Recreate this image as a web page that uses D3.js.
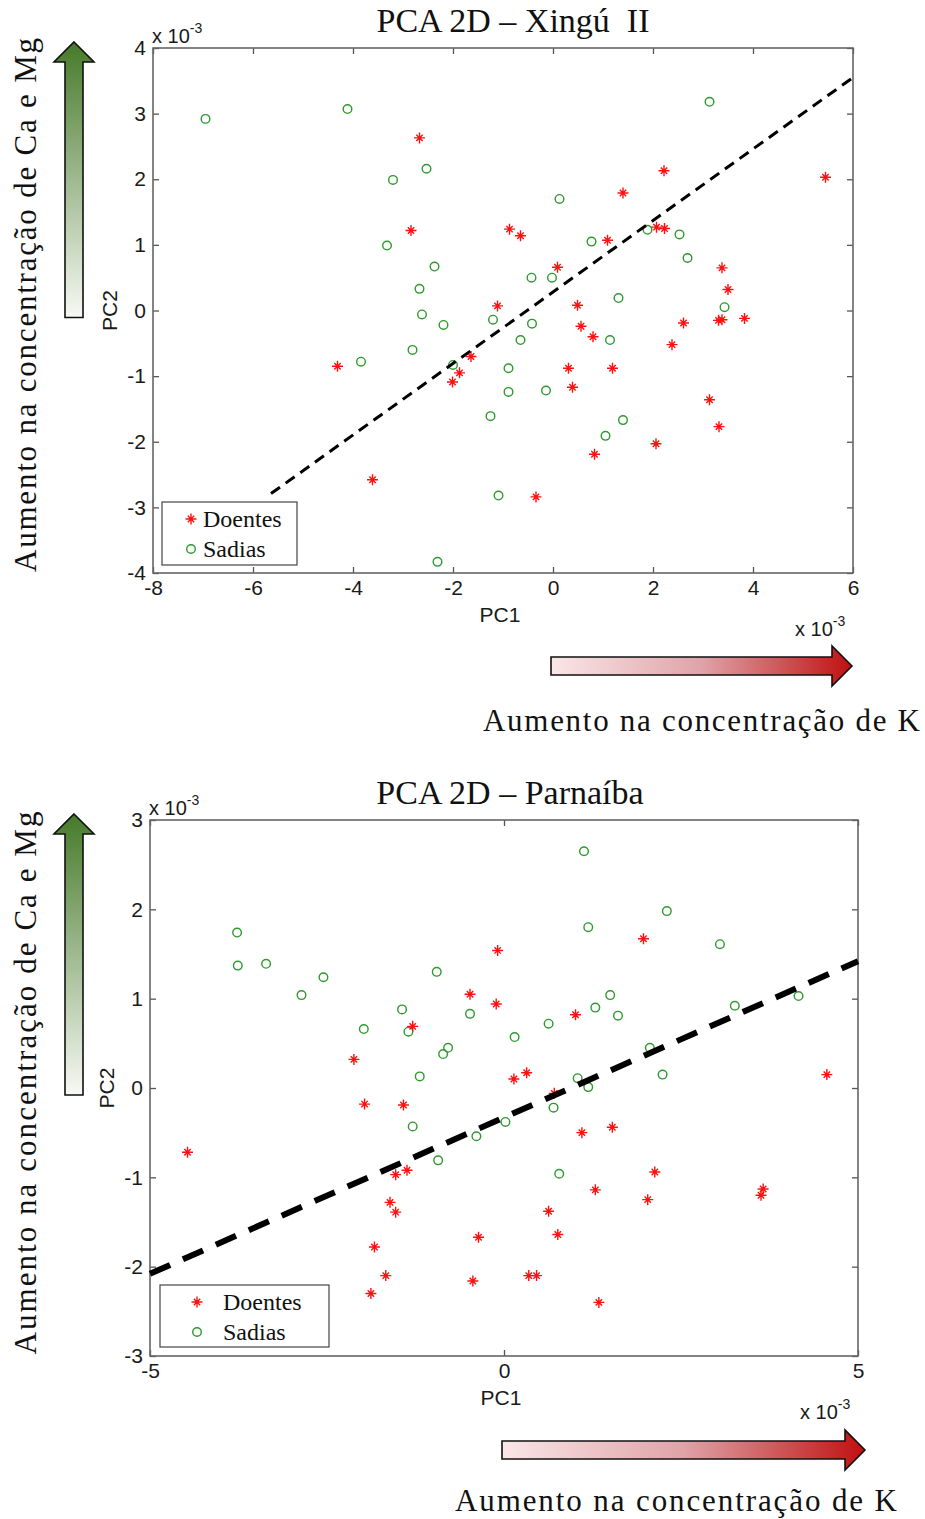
<!DOCTYPE html>
<html lang="pt">
<head>
    <meta charset="UTF-8">
    <title>PCA 2D</title>
    <script src="https://cdnjs.cloudflare.com/ajax/libs/d3/7.8.2/d3.min.js"></script>
    <style>
        body{ margin: 0; background: #fff; }
        svg{ display: block; background: #fff; }
        .tick text{ font-family: "Liberation Sans", Arial, sans-serif; font-size: 21px; fill: #1a1a1a; }
        .serif{ font-family: "Liberation Serif", "Times New Roman", serif; fill: #111; white-space: pre; }
        .sans{ font-family: "Liberation Sans", Arial, sans-serif; fill: #1a1a1a; }
    </style>
</head>
<body>
<svg id="chart"></svg>
<script>
// values (x 10^-3)
const xinguDoentes = [
    [-2.67, 2.63], [-2.84, 1.22], [-1.11, 0.07], [-0.87, 1.24], [5.45, 2.03],
    [2.22, 2.13], [1.40, 1.79], [-0.65, 1.14], [1.09, 1.07], [2.07, 1.27],
    [2.23, 1.25], [3.38, 0.65], [3.50, 0.32], [0.09, 0.66], [0.49, 0.08],
    [-4.31, -0.85], [-1.64, -0.70], [-1.87, -0.95], [-2.01, -1.09], [-3.61, -2.58],
    [2.61, -0.19], [3.31, -0.15], [3.38, -0.14], [3.83, -0.12], [2.38, -0.52],
    [0.56, -0.24], [0.80, -0.40], [0.31, -0.88], [1.19, -0.88], [0.39, -1.17],
    [3.13, -1.36], [3.32, -1.77], [2.06, -2.03], [0.83, -2.19], [-0.34, -2.84]
];
const xinguSadias = [
    [-6.95, 2.92], [-4.11, 3.07], [-2.53, 2.16], [-3.20, 1.99], [-3.32, 0.99],
    [-2.37, 0.67], [-2.67, 0.33], [3.13, 3.18], [0.13, 1.70], [0.77, 1.05],
    [1.89, 1.23], [2.53, 1.16], [2.69, 0.80], [3.43, 0.05], [-0.43, 0.50],
    [-0.02, 0.50], [1.31, 0.19], [-1.20, -0.14], [-2.62, -0.06], [-2.19, -0.22],
    [-2.81, -0.60], [-3.84, -0.78], [-2.00, -0.83], [-0.89, -0.88], [-0.89, -1.24],
    [-1.25, -1.61], [-1.09, -2.82], [-2.31, -3.83], [-0.42, -0.20], [-0.65, -0.45],
    [1.14, -0.45], [-0.14, -1.22], [1.40, -1.67], [1.05, -1.91]
];
const xinguFit = [[-5.64, -2.79], [6, 3.55]];
const xinguXTicks = [-8, -6, -4, -2, 0, 2, 4, 6];
const xinguYTicks = [-4, -3, -2, -1, 0, 1, 2, 3, 4];

const parnaibaDoentes = [
    [-0.09, 1.54], [-0.48, 1.05], [-0.11, 0.94], [-1.29, 0.69], [-2.12, 0.32],
    [1.97, 1.67], [1.01, 0.82], [0.32, 0.17], [0.14, 0.10], [4.56, 0.15],
    [-1.97, -0.18], [-1.42, -0.19], [-4.47, -0.72], [-1.53, -0.97], [-1.37, -0.92],
    [-1.61, -1.28], [-1.53, -1.39], [-0.36, -1.67], [-1.83, -1.78], [-1.67, -2.10],
    [-0.44, -2.16], [-1.88, -2.30], [0.71, -0.06], [1.10, -0.50], [1.53, -0.44],
    [2.13, -0.94], [1.29, -1.14], [2.03, -1.25], [3.66, -1.13], [3.63, -1.20],
    [0.63, -1.38], [0.76, -1.64], [0.35, -2.10], [0.46, -2.10], [1.34, -2.40]
];
const parnaibaSadias = [
    [-3.77, 1.74], [-3.76, 1.37], [-3.36, 1.39], [-2.55, 1.24], [-2.86, 1.04],
    [-0.95, 1.30], [-1.44, 0.88], [-0.48, 0.83], [-1.98, 0.66], [-1.35, 0.63],
    [-0.79, 0.45], [-0.86, 0.38], [-1.19, 0.13], [1.13, 2.65], [2.30, 1.98],
    [1.19, 1.80], [3.05, 1.61], [1.50, 1.04], [1.29, 0.90], [1.61, 0.81],
    [0.63, 0.72], [0.15, 0.57], [3.26, 0.92], [4.16, 1.03], [2.06, 0.45],
    [1.04, 0.11], [2.24, 0.15], [1.19, 0.01], [0.70, -0.22], [0.02, -0.38],
    [-1.29, -0.43], [-0.93, -0.81], [-0.39, -0.54], [0.78, -0.96]
];
const parnaibaFit = [[-5, -2.08], [5, 1.42]];
const parnaibaXTicks = [-5, 0, 5];
const parnaibaYTicks = [-3, -2, -1, 0, 1, 2, 3];

const legendLabels = ['Doentes', 'Sadias'];
const yArrowLabel = 'Aumento na concentração de Ca e Mg';
const xArrowLabel = 'Aumento na concentração de K';

let width = 925;
let height = 1519;

const svg = d3.select('#chart').attr('width', width).attr('height', height);

const defs = svg.append('defs');
const gGreen = defs.append('linearGradient').attr('id', 'gradGreen')
    .attr('x1', 0).attr('y1', 1).attr('x2', 0).attr('y2', 0);
gGreen.append('stop').attr('offset', '0%').attr('stop-color', '#f7f9f4');
gGreen.append('stop').attr('offset', '100%').attr('stop-color', '#467a2a');
const gRed = defs.append('linearGradient').attr('id', 'gradRed')
    .attr('x1', 0).attr('y1', 0).attr('x2', 1).attr('y2', 0);
gRed.append('stop').attr('offset', '0%').attr('stop-color', '#fae6e8');
gRed.append('stop').attr('offset', '50%').attr('stop-color', '#dfa3a8');
gRed.append('stop').attr('offset', '100%').attr('stop-color', '#c01010');

const starPath = 'M-5.5,0H5.5M0,-5.5V5.5M-3.2,-3.2L3.2,3.2M-3.2,3.2L3.2,-3.2';

const drawStar = (g, x, y) => {
    g.append('path').attr('d', starPath)
        .attr('transform', `translate(${x},${y})`)
        .attr('stroke', '#ff1010').attr('stroke-width', 1.4).attr('fill', 'none');
};
const drawCircle = (g, x, y) => {
    g.append('circle').attr('cx', x).attr('cy', y).attr('r', 4.3)
        .attr('fill', 'none').attr('stroke', '#2e9a2e').attr('stroke-width', 1.4);
};

const exponent = (x, y) => {
    const t = svg.append('text').attr('class', 'sans').attr('x', x).attr('y', y).style('font-size', '20px');
    t.append('tspan').text('x 10');
    t.append('tspan').attr('dy', -10).style('font-size', '14px').text('-3');
};

// vertical green arrow, horizontal red arrow
const upArrow = (cx, top, bottom) => {
    const p = d3.path();
    p.moveTo(cx, top);
    p.lineTo(cx + 20, top + 20);
    p.lineTo(cx + 9, top + 20);
    p.lineTo(cx + 9, bottom);
    p.lineTo(cx - 9, bottom);
    p.lineTo(cx - 9, top + 20);
    p.lineTo(cx - 20, top + 20);
    p.closePath();
    svg.append('path').attr('d', p.toString()).attr('fill', 'url(#gradGreen)')
        .attr('stroke', '#111').attr('stroke-width', 1.6);
};
const rightArrow = (left, right, cy) => {
    const p = d3.path();
    p.moveTo(right, cy);
    p.lineTo(right - 20, cy - 20);
    p.lineTo(right - 20, cy - 9);
    p.lineTo(left, cy - 9);
    p.lineTo(left, cy + 9);
    p.lineTo(right - 20, cy + 9);
    p.lineTo(right - 20, cy + 20);
    p.closePath();
    svg.append('path').attr('d', p.toString()).attr('fill', 'url(#gradRed)')
        .attr('stroke', '#111').attr('stroke-width', 1.6);
};

function drawPanel(o){
    const xScale = d3.scaleLinear().domain(o.xDomain).range([o.left, o.right]);
    const yScale = d3.scaleLinear().domain(o.yDomain).range([o.bottom, o.top]);
    const fmt = d => String(d);

    const g = svg.append('g');

    g.append('g').attr('transform', `translate(0,${o.bottom})`)
        .call(d3.axisBottom(xScale).tickValues(o.xTicks).tickFormat(fmt).tickSizeInner(-6).tickSizeOuter(0).tickPadding(7));
    g.append('g').attr('transform', `translate(0,${o.top})`)
        .call(d3.axisTop(xScale).tickValues(o.xTicks).tickFormat('').tickSizeInner(-6).tickSizeOuter(0));
    g.append('g').attr('transform', `translate(${o.left},0)`)
        .call(d3.axisLeft(yScale).tickValues(o.yTicks).tickFormat(fmt).tickSizeInner(-6).tickSizeOuter(0).tickPadding(7));
    g.append('g').attr('transform', `translate(${o.right},0)`)
        .call(d3.axisRight(yScale).tickValues(o.yTicks).tickFormat('').tickSizeInner(-6).tickSizeOuter(0));
    g.selectAll('.domain').remove();
    g.selectAll('.tick line').attr('stroke', '#555').attr('stroke-width', 1.3);

    g.append('rect').attr('x', o.left).attr('y', o.top)
        .attr('width', o.right - o.left).attr('height', o.bottom - o.top)
        .attr('fill', 'none').attr('stroke', '#666').attr('stroke-width', 1.6);

    const pts = g.append('g');
    o.sadias.forEach(d => drawCircle(pts, xScale(d[0]), yScale(d[1])));
    o.doentes.forEach(d => drawStar(pts, xScale(d[0]), yScale(d[1])));

    g.append('path')
        .attr('d', d3.line().x(d => xScale(d[0])).y(d => yScale(d[1]))(o.fit))
        .attr('stroke', '#000').attr('stroke-width', o.fitWidth)
        .attr('stroke-dasharray', o.fitDash).attr('fill', 'none');

    // legend
    const lg = g.append('g');
    lg.append('rect').attr('x', o.legend[0]).attr('y', o.legend[1])
        .attr('width', o.legend[2]).attr('height', o.legend[3])
        .attr('fill', '#fff').attr('stroke', '#444').attr('stroke-width', 1.2);
    legendLabels.forEach((lab, i) => {
        const cy = o.legend[1] + 17 + i * 30;
        if (i === 0) drawStar(lg, o.legend[0] + o.legendMark, cy);
        else drawCircle(lg, o.legend[0] + o.legendMark, cy);
        lg.append('text').attr('class', 'serif').attr('x', o.legend[0] + o.legendText).attr('y', cy + 8)
            .style('font-size', '24px').text(lab);
    });

    svg.append('text').attr('class', 'serif').attr('x', o.titleX).attr('y', o.top - 16)
        .attr('text-anchor', 'middle').style('font-size', '34px').text(o.title);

    exponent(o.left - 1, o.top - 5);
    exponent(o.right - 58, o.bottom + 63);

    svg.append('text').attr('class', 'sans').attr('x', (o.left + o.right) / 2 - 3).attr('y', o.bottom + 49)
        .attr('text-anchor', 'middle').style('font-size', '21px').text('PC1');
    svg.append('text').attr('class', 'sans')
        .attr('transform', `translate(${o.left - 36},${yScale(0)}) rotate(-90)`)
        .attr('text-anchor', 'middle').style('font-size', '21px').text('PC2');

    upArrow(74, o.top - 6, yScale(0) + 7);
    svg.append('text').attr('class', 'serif')
        .attr('transform', `translate(36,${o.yLabelMid}) rotate(-90)`)
        .attr('text-anchor', 'middle').style('font-size', '31px')
        .attr('textLength', o.yLabelLen).attr('lengthAdjust', 'spacing').text(yArrowLabel);

    rightArrow(o.arrowLeft, o.arrowRight, o.arrowY);
    svg.append('text').attr('class', 'serif').attr('x', o.kLabelX).attr('y', o.kLabelY)
        .style('font-size', '31px')
        .attr('textLength', o.kLabelLen).attr('lengthAdjust', 'spacing').text(xArrowLabel);
}

drawPanel({
    title: 'PCA 2D – Xingú  II', titleX: 513,
    left: 153, right: 853, top: 48, bottom: 573,
    xDomain: [-8, 6], yDomain: [-4, 4], xTicks: xinguXTicks, yTicks: xinguYTicks,
    doentes: xinguDoentes, sadias: xinguSadias, fit: xinguFit, fitWidth: 3, fitDash: '11,7',
    legend: [162, 502, 135, 63], legendMark: 29, legendText: 41,
    yLabelMid: 305, yLabelLen: 534,
    arrowLeft: 551, arrowRight: 852, arrowY: 666,
    kLabelX: 483, kLabelY: 731, kLabelLen: 437
});

drawPanel({
    title: 'PCA 2D – Parnaíba', titleX: 510,
    left: 150, right: 858, top: 820, bottom: 1356,
    xDomain: [-5, 5], yDomain: [-3, 3], xTicks: parnaibaXTicks, yTicks: parnaibaYTicks,
    doentes: parnaibaDoentes, sadias: parnaibaSadias, fit: parnaibaFit, fitWidth: 6, fitDash: '22,14',
    legend: [160, 1285, 169, 62], legendMark: 37, legendText: 63,
    yLabelMid: 1083, yLabelLen: 543,
    arrowLeft: 502, arrowRight: 865, arrowY: 1450,
    kLabelX: 455, kLabelY: 1511, kLabelLen: 442
});
</script>
</body>
</html>
